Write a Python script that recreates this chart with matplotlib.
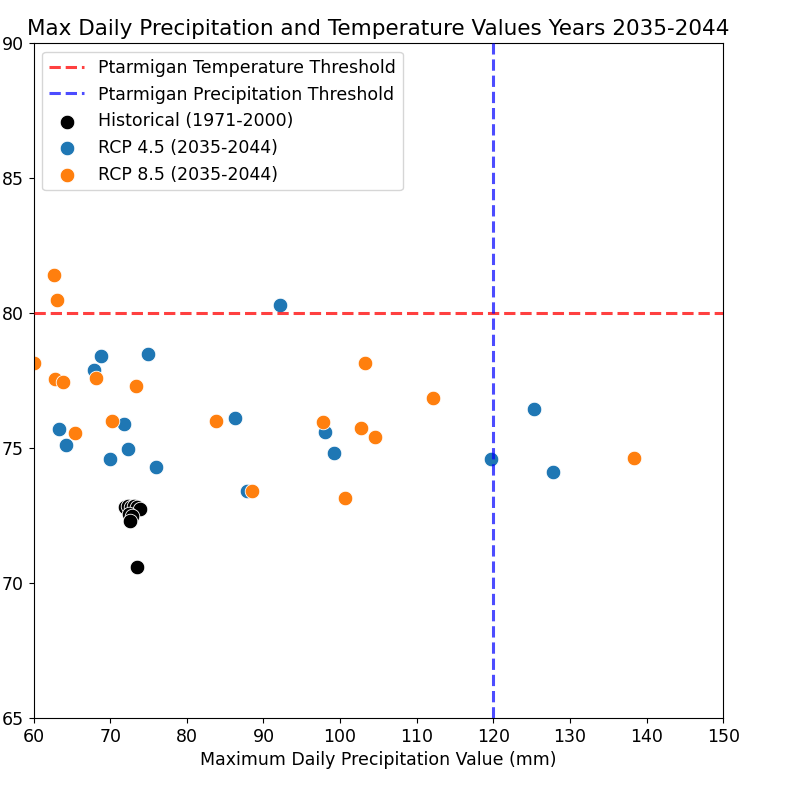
import numpy as np
import matplotlib.pyplot as plt

# Historical (1971-2000)
hist_precip = [71.9, 72.3, 72.7, 73.1, 73.5, 73.9, 72.5, 72.8, 72.6, 73.5]
hist_temp = [72.8, 72.85, 72.8, 72.85, 72.8, 72.75, 72.55, 72.5, 72.3, 70.6]

# RCP 4.5 (2035-2044)
rcp45_precip = [68.8, 74.9, 67.9, 63.3, 71.8, 64.2, 72.3, 70.0, 76.0,
                92.1, 86.3, 98.0, 99.2, 87.8, 125.3, 119.7, 127.8]
rcp45_temp = [78.4, 78.5, 77.9, 75.7, 75.9, 75.1, 74.95, 74.6, 74.3,
              80.3, 76.1, 75.6, 74.8, 73.4, 76.45, 74.6, 74.1]

# RCP 8.5 (2035-2044)
rcp85_precip = [62.6, 63.1, 60.1, 62.8, 63.8, 68.1, 73.4, 70.2, 65.4,
                103.2, 112.1, 83.8, 97.8, 102.7, 104.6, 88.5, 100.7, 138.4]
rcp85_temp = [81.4, 80.5, 78.15, 77.55, 77.45, 77.6, 77.3, 76.0, 75.55,
              78.15, 76.85, 76.0, 75.95, 75.75, 75.4, 73.4, 73.15, 74.65]

temp_threshold = 80
precip_threshold = 120

fig = plt.figure(figsize=(8, 8), dpi=100)
ax = fig.add_axes([0.042, 0.1025, 0.862, 0.8435])

ax.scatter(hist_precip, hist_temp, color="black", s=110, edgecolor="white",
           linewidth=0.6, label="Historical (1971-2000)", zorder=2)
ax.scatter(rcp45_precip, rcp45_temp, color="#1f77b4", s=110, edgecolor="white",
           linewidth=0.6, label="RCP 4.5 (2035-2044)", zorder=2)
ax.scatter(rcp85_precip, rcp85_temp, color="#ff7f0e", s=110, edgecolor="white",
           linewidth=0.6, label="RCP 8.5 (2035-2044)", zorder=2)

ax.axhline(temp_threshold, color="red", linestyle="--", linewidth=2.2, alpha=0.75,
           label="Ptarmigan Temperature Threshold", zorder=3)
ax.axvline(precip_threshold, color="blue", linestyle="--", linewidth=2.2, alpha=0.7,
           label="Ptarmigan Precipitation Threshold", zorder=3)

ax.set_xlim(60, 150)
ax.set_ylim(65, 90)
ax.set_xticks(np.arange(60, 151, 10))
ax.set_yticks(np.arange(65, 91, 5))
ax.tick_params(labelsize=12.5)
ax.set_xlabel("Maximum Daily Precipitation Value (mm)", fontsize=12.5)
ax.set_title("Max Daily Precipitation and Temperature Values Years 2035-2044", fontsize=15.5)

handles, labels = ax.get_legend_handles_labels()
order = [3, 4, 0, 1, 2]
ax.legend([handles[i] for i in order], [labels[i] for i in order],
          loc="upper left", fontsize=12.5)

plt.savefig("out.png")
